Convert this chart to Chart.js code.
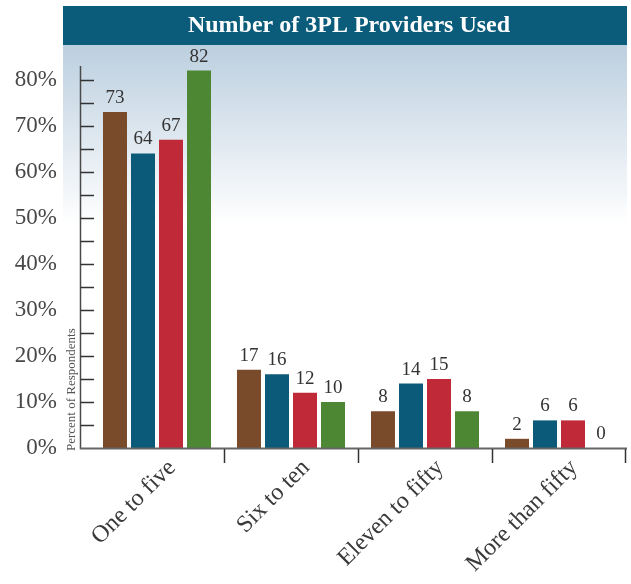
<!DOCTYPE html>
<html>
<head>
<meta charset="utf-8">
<script src="https://cdn.jsdelivr.net/npm/chart.js@4/dist/chart.umd.min.js"></script>
<style>
  html, body { margin: 0; padding: 0; background: #ffffff; }
  #wrap { width: 631px; height: 584px; position: relative; }
</style>
</head>
<body>
<div id="wrap"><canvas id="c" width="631" height="584"></canvas></div>
<script>
const chartTitle = "Number of 3PL Providers Used";
const yAxisTitle = "Percent of Respondents";
const categories = ["One to five", "Six to ten", "Eleven to fifty", "More than fifty"];
const seriesA = [73, 17, 8, 2];
const seriesB = [64, 16, 14, 6];
const seriesC = [67, 12, 15, 6];
const seriesD = [82, 10, 8, 0];
const seriesNames = ["Series 1", "Series 2", "Series 3", "Series 4"];
const seriesColors = ["#7a4b2a", "#0b5a79", "#c02a38", "#4e8734"];
const yTickValues = [0, 10, 20, 30, 40, 50, 60, 70, 80];
const yMax = 83;

const SERIF = "'Liberation Serif', 'Times New Roman', serif";

const decorPlugin = {
  id: 'decor',
  beforeDraw(chart) {
    const ctx = chart.ctx;
    ctx.save();
    ctx.fillStyle = '#ffffff';
    ctx.fillRect(0, 0, chart.width, chart.height);
    // gradient panel
    const g = ctx.createLinearGradient(0, 45, 0, 225);
    g.addColorStop(0, '#bccfdf');
    g.addColorStop(1, '#ffffff');
    ctx.fillStyle = g;
    ctx.fillRect(63, 45, 564, 185);
    // title bar
    ctx.fillStyle = '#0b5c7b';
    ctx.fillRect(63, 6, 564, 39);
    ctx.fillStyle = '#ffffff';
    ctx.font = "bold 24px " + SERIF;
    ctx.textAlign = 'center';
    ctx.textBaseline = 'middle';
    ctx.fillText(chartTitle, 349, 26);
    ctx.restore();
  },
  afterDatasetsDraw(chart) {
    const ctx = chart.ctx;
    const x = chart.scales.x, y = chart.scales.y;
    const axisX = 80.5;
    const y0 = y.getPixelForValue(0);
    const yTop = y.getPixelForValue(yMax);
    ctx.save();
    // y axis line
    ctx.strokeStyle = '#4a4a4a';
    ctx.lineWidth = 1.5;
    ctx.beginPath();
    ctx.moveTo(axisX, yTop);
    ctx.lineTo(axisX, y0);
    ctx.stroke();
    // y ticks every 5
    ctx.strokeStyle = '#333333';
    ctx.lineWidth = 1.5;
    for (let v = 5; v <= 80; v += 5) {
      const py = Math.round(y.getPixelForValue(v)) + 0.5;
      ctx.beginPath();
      ctx.moveTo(axisX, py);
      ctx.lineTo(axisX + 13.5, py);
      ctx.stroke();
    }
    // x axis line
    ctx.strokeStyle = '#666666';
    ctx.lineWidth = 2;
    ctx.beginPath();
    ctx.moveTo(axisX - 0.75, y0 + 0.5);
    ctx.lineTo(chart.chartArea.right + 1, y0 + 0.5);
    ctx.stroke();
    // category boundary ticks
    ctx.strokeStyle = '#333333';
    ctx.lineWidth = 1.5;
    const n = categories.length;
    for (let i = 0; i < n; i++) {
      let bx;
      if (i < n - 1) bx = (x.getPixelForValue(i) + x.getPixelForValue(i + 1)) / 2;
      else bx = x.getPixelForValue(i) + (x.getPixelForValue(i) - x.getPixelForValue(i - 1)) / 2 - 1.5;
      bx = Math.round(bx) + 0.5;
      ctx.beginPath();
      ctx.moveTo(bx, y0 + 1);
      ctx.lineTo(bx, y0 + 15);
      ctx.stroke();
    }
    // data labels
    ctx.fillStyle = '#333333';
    ctx.font = "19px " + SERIF;
    ctx.textAlign = 'center';
    ctx.textBaseline = 'alphabetic';
    chart.data.datasets.forEach((ds, di) => {
      const meta = chart.getDatasetMeta(di);
      meta.data.forEach((bar, i) => {
        ctx.fillText(String(ds.data[i]), bar.x, bar.y - 9);
      });
    });
    // y axis title
    ctx.fillStyle = '#555555';
    ctx.font = "13px " + SERIF;
    ctx.translate(75, y0 + 3);
    ctx.rotate(-Math.PI / 2);
    ctx.textAlign = 'left';
    ctx.textBaseline = 'alphabetic';
    ctx.fillText(yAxisTitle, 0, 0);
    ctx.restore();
  }
};

const allSeries = [seriesA, seriesB, seriesC, seriesD];

new Chart(document.getElementById('c'), {
  type: 'bar',
  data: {
    labels: categories,
    datasets: allSeries.map((d, i) => ({
      label: seriesNames[i],
      data: d,
      backgroundColor: seriesColors[i],
      borderWidth: 0,
      categoryPercentage: 0.836,
      barPercentage: 0.857
    }))
  },
  options: {
    responsive: false,
    animation: false,
    devicePixelRatio: 1,
    layout: { padding: { top: 66, right: 5, left: 0, bottom: 0 } },
    plugins: {
      legend: { display: false },
      title: { display: false },
      tooltip: { enabled: false }
    },
    scales: {
      x: {
        grid: { display: false, drawTicks: false },
        border: { display: false },
        ticks: {
          font: { family: SERIF, size: 24 },
          color: '#3a3a3a',
          maxRotation: 45,
          minRotation: 45,
          padding: 6,
          labelOffset: 15,
          autoSkip: false
        },
        afterFit(scale) { scale.height = 136; }
      },
      y: {
        min: 0,
        max: yMax,
        grid: { display: false, drawTicks: false },
        border: { display: false },
        afterBuildTicks(scale) {
          scale.ticks = yTickValues.map(v => ({ value: v }));
        },
        ticks: {
          font: { family: SERIF, size: 23 },
          color: '#484848',
          padding: 33,
          callback: v => v + '%'
        },
        afterFit(scale) { scale.width = 90; }
      }
    }
  },
  plugins: [decorPlugin]
});
</script>
</body>
</html>
